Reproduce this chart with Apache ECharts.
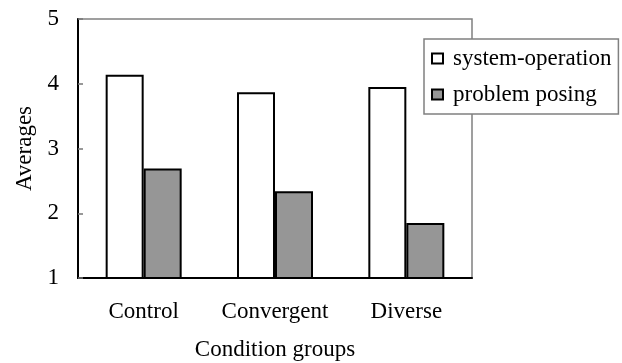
<!DOCTYPE html>
<html>
<head>
<meta charset="utf-8">
<script src="https://cdn.jsdelivr.net/npm/echarts@6/dist/echarts.min.js"></script>
<style>
  html, body { margin: 0; padding: 0; background: #fff; }
  #chart { width: 622px; height: 363px; }
</style>
</head>
<body>
<div id="chart"></div>
<script>
// Condition groups and the two averaged scores per group
const categories = ['Control', 'Convergent', 'Diverse'];
const systemOperation = [4.14, 3.87, 3.95];
const problemPosing = [2.69, 2.34, 1.85];
const yTicks = [1, 2, 3, 4, 5];

const FONT = '"Liberation Serif", "Times New Roman", serif';
const txt = { fontFamily: FONT, fontSize: 23, color: '#000' };

const chart = echarts.init(document.getElementById('chart'), null, { renderer: 'canvas' });
chart.setOption({
  animation: false,
  backgroundColor: '#fff',
  grid: {
    left: 78, top: 19, right: 150, bottom: 85,
    containLabel: false,
    outerBoundsMode: 'none',
    show: true, borderColor: '#808080', borderWidth: 1.5, backgroundColor: 'transparent'
  },
  legend: {
    orient: 'vertical',
    left: 424, top: 39,
    padding: [8, 7, 8, 7],
    itemGap: 13,
    itemWidth: 11, itemHeight: 10,
    icon: 'rect',
    backgroundColor: '#fff',
    borderColor: '#808080', borderWidth: 1.5,
    textStyle: Object.assign({}, txt, { padding: [0, 0, 0, 5] }),
    data: ['system-operation', 'problem posing']
  },
  xAxis: {
    type: 'category',
    data: categories,
    name: 'Condition groups',
    nameLocation: 'middle',
    nameGap: 60,
    nameTextStyle: txt,
    axisLine: { lineStyle: { color: '#000', width: 2 } },
    axisTick: { inside: true, length: 6, lineStyle: { color: '#777', width: 1.5 } },
    axisLabel: Object.assign({}, txt, { margin: 22, interval: 0 }),
    splitLine: { show: false }
  },
  yAxis: {
    type: 'value',
    min: yTicks[0], max: yTicks[yTicks.length - 1], interval: 1,
    name: 'Averages',
    nameLocation: 'middle',
    nameRotate: 90,
    nameGap: 42,
    nameTextStyle: txt,
    axisLine: { show: true, lineStyle: { color: '#000', width: 2 } },
    axisTick: { show: true, inside: true, length: 5, lineStyle: { color: '#777', width: 1.5 } },
    axisLabel: Object.assign({}, txt, { margin: 19 }),
    splitLine: { show: false }
  },
  series: [
    {
      name: 'system-operation', type: 'bar', data: systemOperation,
      barWidth: 38, barGap: '0%',
      itemStyle: { color: '#fff', borderColor: '#000', borderWidth: 2 }
    },
    {
      name: 'problem posing', type: 'bar', data: problemPosing,
      barWidth: 38,
      itemStyle: { color: '#969696', borderColor: '#000', borderWidth: 2 }
    }
  ]
});
</script>
</body>
</html>
